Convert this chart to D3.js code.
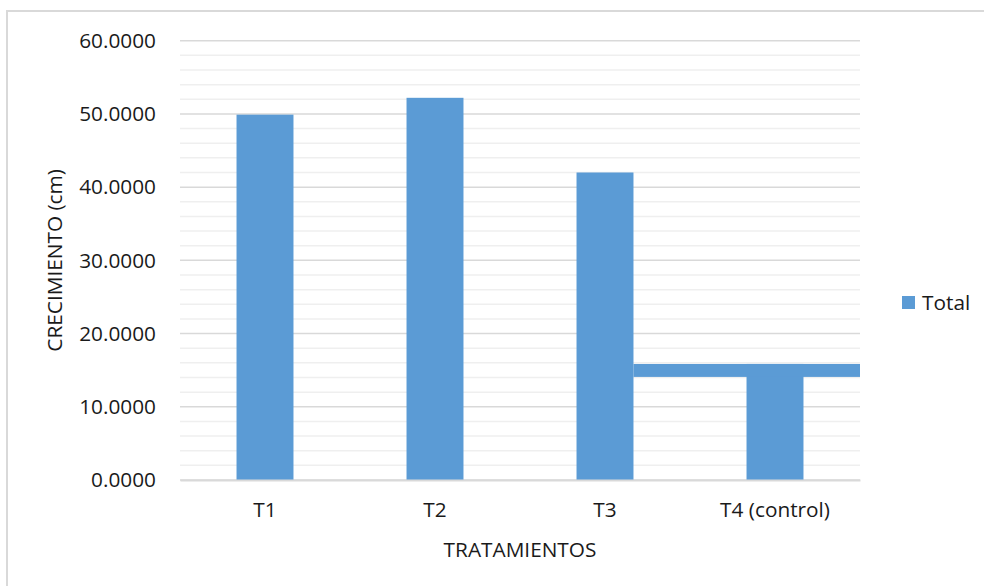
<!DOCTYPE html>
<html>
<head>
<meta charset="utf-8">
<script src="https://cdn.jsdelivr.net/npm/d3@7"></script>
<style>
  html, body { margin: 0; padding: 0; background: #fff; }
  svg { display: block; }
  text { font-family: "Open Sans", Lato, sans-serif; fill: #1a1a1a; }
</style>
</head>
<body>
<svg id="chart" width="984" height="586"></svg>
<script>
// Growth per treatment
const categories = ["T1", "T2", "T3", "T4 (control)"];
const values = [49.9, 52.2, 42.0, 15.85];
const yTicks = [0, 10, 20, 30, 40, 50, 60];
const yMinorStep = 2;
// Horizontal band drawn across the control region (low, high)
const controlBand = [14.08, 15.85];
const seriesName = "Total";
const yTitle = "CRECIMIENTO (cm)";
const xTitle = "TRATAMIENTOS";

const svg = d3.select("#chart");
const W = 984, H = 586;
const plot = { left: 180, right: 860, top: 40.7, bottom: 480 };
const barColor = "#5b9bd5";
const fontFamily = "'Open Sans', Lato, sans-serif";
const fontSize = 20.8;

// Chart frame
svg.append("rect")
  .attr("x", 7).attr("y", 11)
  .attr("width", W + 10).attr("height", H + 10)
  .attr("fill", "#fff").attr("stroke", "#d9d9d9").attr("stroke-width", 2);

const x = d3.scaleBand()
  .domain(categories)
  .range([plot.left, plot.right])
  .paddingInner(0.665)
  .paddingOuter(0.3325);

const y = d3.scaleLinear()
  .domain([0, 60])
  .range([plot.bottom, plot.top]);

// Minor gridlines
const minor = d3.range(0, 60 + 0.001, yMinorStep).filter(v => v % 10 !== 0);
svg.append("g").selectAll("line").data(minor).join("line")
  .attr("x1", plot.left).attr("x2", plot.right)
  .attr("y1", d => y(d)).attr("y2", d => y(d))
  .attr("stroke", "#efefef").attr("stroke-width", 1.5);

// Major gridlines
svg.append("g").selectAll("line").data(yTicks).join("line")
  .attr("x1", plot.left).attr("x2", plot.right)
  .attr("y1", d => y(d)).attr("y2", d => y(d))
  .attr("stroke", "#d9d9d9").attr("stroke-width", 1.5);

// Y axis labels
const yAxis = d3.axisLeft(y)
  .tickValues(yTicks)
  .tickFormat(d3.format(".4f"))
  .tickSize(0)
  .tickPadding(24);
const gy = svg.append("g").attr("transform", `translate(${plot.left},0)`).call(yAxis);
gy.select(".domain").remove();
gy.selectAll("text")
  .attr("font-size", fontSize)
  .style("font-family", fontFamily)
  .attr("fill", "#1a1a1a");

// Bars
svg.append("g").selectAll("rect").data(categories).join("rect")
  .attr("x", d => x(d))
  .attr("width", x.bandwidth())
  .attr("y", (d, i) => y(values[i]))
  .attr("height", (d, i) => y(0) - y(values[i]))
  .attr("fill", barColor);

// Band across the control region
const bandStart = x(categories[2]) + x.bandwidth();
svg.append("rect")
  .attr("x", bandStart)
  .attr("width", plot.right - bandStart)
  .attr("y", y(controlBand[1]))
  .attr("height", y(controlBand[0]) - y(controlBand[1]))
  .attr("fill", barColor);

// X axis
const xAxis = d3.axisBottom(x).tickSize(0).tickPadding(22);
const gx = svg.append("g").attr("transform", `translate(0,${plot.bottom})`).call(xAxis);
gx.select(".domain").attr("stroke", "#d9d9d9").attr("stroke-width", 2);
gx.selectAll("text")
  .attr("font-size", fontSize)
  .style("font-family", fontFamily)
  .attr("fill", "#1a1a1a");

// Axis titles
svg.append("text")
  .attr("x", (plot.left + plot.right) / 2)
  .attr("y", 557)
  .attr("text-anchor", "middle")
  .attr("font-size", fontSize)
  .text(xTitle);

svg.append("text")
  .attr("transform", `translate(62,${(plot.top + plot.bottom) / 2}) rotate(-90)`)
  .attr("text-anchor", "middle")
  .attr("font-size", fontSize)
  .text(yTitle);

// Legend
const lg = svg.append("g").attr("transform", "translate(902,296)");
lg.append("rect").attr("width", 13).attr("height", 13).attr("fill", barColor);
lg.append("text").attr("x", 20).attr("y", 14).attr("font-size", fontSize).text(seriesName);
</script>
</body>
</html>
